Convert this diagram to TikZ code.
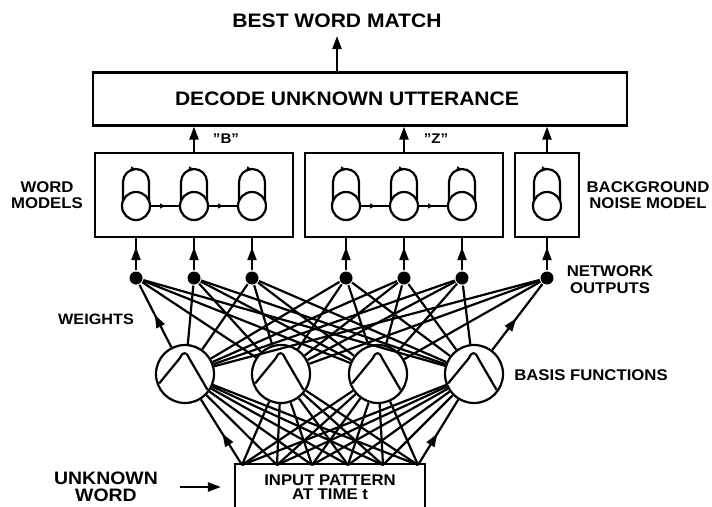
\documentclass[tikz,border=0pt]{standalone}
\usepackage{fontspec}
\setmainfont{Liberation Sans}[FakeStretch=1.08]
\usetikzlibrary{arrows.meta,calc,decorations.markings}

\begin{document}
\begin{tikzpicture}[x=1pt, y=1pt, line width=2.2pt,
  lbl/.style = {font=\bfseries\fontsize{15.5}{16}\selectfont, align=center, inner sep=1pt},
  biglbl/.style = {font=\bfseries\fontsize{19.5}{20}\selectfont, inner sep=1pt},
  box/.style = {draw, minimum height=84pt, inner sep=0pt},
  state/.style = {draw, circle, minimum size=28pt, inner sep=0pt},
  basis/.style = {draw, circle, minimum size=58pt, inner sep=0pt},
  dot/.style = {fill, circle, minimum size=13pt, inner sep=0pt},
  arr/.style = {-{Triangle[length=13pt,width=9pt]}},
  midarr/.style = {postaction={decorate}, decoration={markings,
    mark=at position #1 with {\arrow{Triangle[length=13pt,width=9pt]}}}},
  tinyarr/.style = {postaction={decorate}, decoration={markings,
    mark=at position 0.5 with {\arrow{Triangle[length=5pt,width=5pt]}}}}]
  \useasboundingbox (0,0) rectangle (712,-506);

  \node[biglbl] (best) at (337,-21) {BEST WORD MATCH};
  \node[draw, minimum width=534pt, minimum height=53pt] (dec) at (360,-99) {};
  \node[biglbl] (dectxt) at (347,-99) {DECODE UNKNOWN UTTERANCE};
  \draw[arr, shorten >=6pt] (dec.north -| best) -- (best.south);

  \node[box, minimum width=198pt] (bw) at (194,-195) {};
  \node[box, minimum width=198pt] (zw) at (404,-195) {};
  \node[box, minimum width=64pt] (nz) at (547,-195) {};
  \foreach \b in {bw, zw, nz}
    \draw[arr] (\b.north) -- (\b.north |- dec.south);
  \node[lbl, font=\bfseries\fontsize{14}{14}\selectfont] (bq) at (226,-139) {"B"};
  \node[lbl, font=\bfseries\fontsize{14}{14}\selectfont] (zq) at (436,-139) {"Z"};

  \node[lbl] (wm) at (47,-195) {WORD\\MODELS};
  \node[lbl] (bnm) at (648,-195) {BACKGROUND\\NOISE MODEL};

  \foreach \n/\x in {1/136, 2/194, 3/252, 4/346, 5/404, 6/462, 7/547} {
    \node[state] (s\n) at (\x,-206) {};
    \draw[tinyarr] ($(s\n)+(-13,5)$) -- ++(0,19)
      arc[start angle=180, end angle=0, radius=13] -- ++(0,-19);
  }
  \draw[tinyarr] (s1) -- (s2);
  \draw[tinyarr] (s2) -- (s3);
  \draw[tinyarr] (s4) -- (s5);
  \draw[tinyarr] (s5) -- (s6);

  \foreach \k/\x/\b in {1/136/bw, 2/194/bw, 3/252/bw, 4/346/zw, 5/404/zw, 6/462/zw, 7/547/nz} {
    \node[dot] (o\k) at (\x,-278) {};
    \draw[midarr=0.72] (o\k) -- (o\k |- \b.south);
  }
  \node[lbl, font=\bfseries\fontsize{15.5}{17}\selectfont] (net) at (610,-280) {NETWORK\\OUTPUTS};
  \node[lbl, font=\bfseries\fontsize{15}{15}\selectfont] (wgt) at (96,-319) {WEIGHTS};

  \foreach \j/\x in {1/185, 2/281, 3/378, 4/474} {
    \node[basis] (f\j) at (\x,-374) {};
    \draw[line join=round] ($(f\j)+(200:27.5)$) -- ($(f\j)+(-5,16)$)
      .. controls ($(f\j)+(-2.5,22.5)$) and ($(f\j)+(1.5,22.5)$) .. ($(f\j)+(4,16)$)
      -- ($(f\j)+(-35:27.5)$);
  }
  \node[lbl] (bf) at (591,-375) {BASIS FUNCTIONS};

  \foreach \k in {1,...,7}
    \foreach \j in {1,...,4} {
      \ifnum\k\j=11 \draw[midarr=0.52] (f\j) -- (o\k);
      \else\ifnum\k\j=74 \draw[midarr=0.48] (f\j) -- (o\k);
      \else \draw (o\k) -- (f\j);
      \fi\fi
    }

  \node[lbl, minimum width=188pt, minimum height=44pt,
    font=\bfseries\fontsize{15.5}{14.5}\selectfont] (inp) at (330,-487) {INPUT PATTERN\\AT TIME t};
  \draw (inp.south west) -- (inp.north west) -- (inp.north east) -- (inp.south east);
  \foreach \k/\x in {1/242, 2/277, 3/312, 4/348, 5/383, 6/418}
    \coordinate (i\k) at (\x,-465);

  \foreach \k in {1,...,6}
    \foreach \j in {1,...,4} {
      \ifnum\k\j=11 \draw[midarr=0.48] (i\k) -- (f\j);
      \else\ifnum\k\j=64 \draw[midarr=0.48] (i\k) -- (f\j);
      \else \draw (i\k) -- (f\j);
      \fi\fi
    }

  \node[lbl, font=\bfseries\fontsize{18}{17}\selectfont] (uw) at (106,-487) {UNKNOWN\\WORD};
  \draw[arr, shorten <=20pt, shorten >=14pt] (uw) -- (inp);
\end{tikzpicture}
\end{document}
